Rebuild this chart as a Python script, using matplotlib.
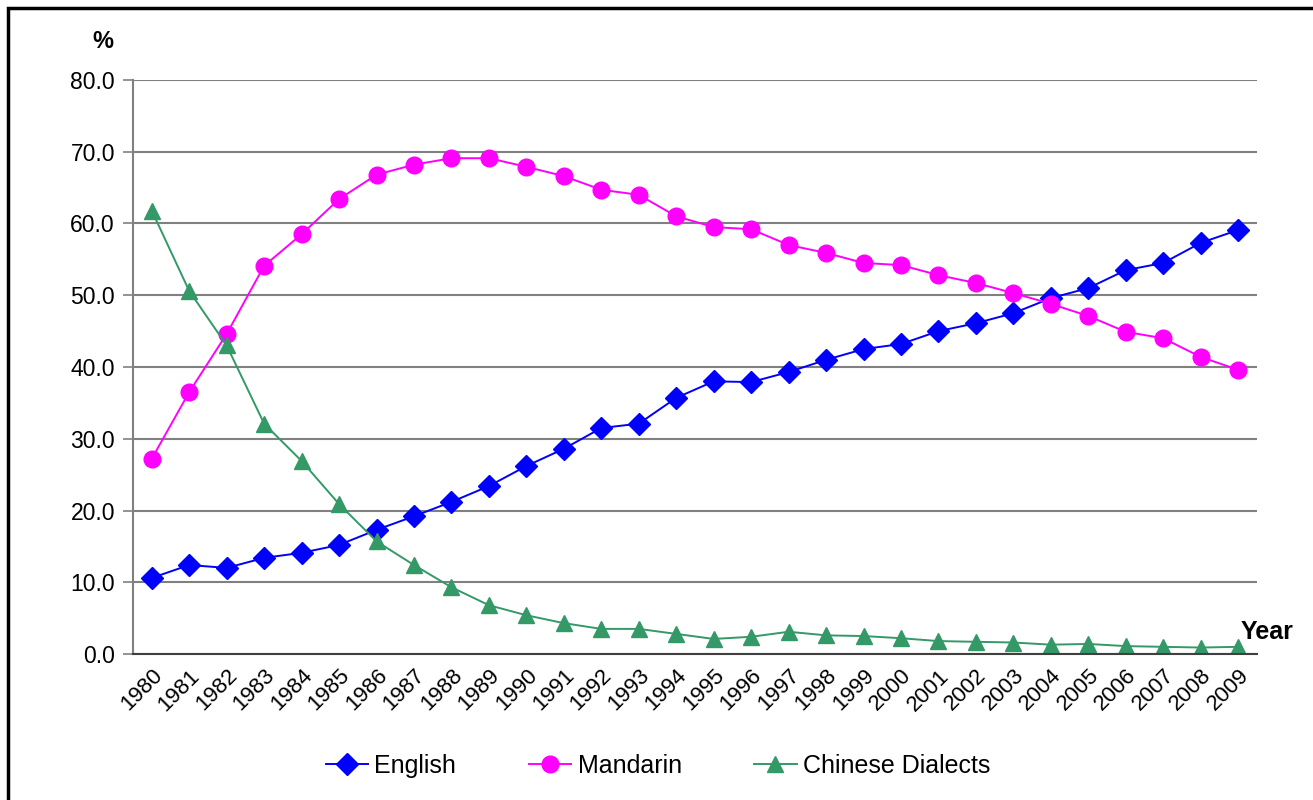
import matplotlib
matplotlib.use("Agg")
import matplotlib.pyplot as plt
from matplotlib.patches import Rectangle

plt.rcParams['font.family'] = ['Liberation Sans', 'DejaVu Sans']

years = [str(y) for y in range(1980, 2010)]

english = [10.6, 12.4, 12.0, 13.4, 14.1, 15.2, 17.3, 19.2, 21.2, 23.4,
           26.2, 28.6, 31.5, 32.1, 35.7, 38.0, 37.9, 39.3, 41.0, 42.5,
           43.2, 45.0, 46.1, 47.5, 49.6, 51.0, 53.5, 54.5, 57.3, 59.1]

mandarin = [27.2, 36.5, 44.6, 54.1, 58.5, 63.4, 66.8, 68.2, 69.1, 69.1,
            67.9, 66.6, 64.7, 64.0, 61.0, 59.5, 59.2, 57.0, 55.9, 54.5,
            54.2, 52.8, 51.7, 50.3, 48.8, 47.1, 44.9, 44.0, 41.4, 39.6]

dialects = [61.8, 50.6, 43.0, 32.1, 26.9, 20.9, 15.7, 12.4, 9.3, 6.8,
            5.4, 4.3, 3.5, 3.5, 2.8, 2.1, 2.4, 3.1, 2.6, 2.5,
            2.2, 1.8, 1.7, 1.6, 1.3, 1.4, 1.1, 1.0, 0.9, 1.0]

fig = plt.figure(figsize=(13.13, 8), dpi=100)
ax = fig.add_axes([0.1013, 0.1825, 0.856, 0.7175])

x = list(range(len(years)))
ax.plot(x, english, color='#0000FF', lw=1.4, marker='D', ms=11, label='English')
ax.plot(x, mandarin, color='#FF00FF', lw=1.4, marker='o', ms=12, label='Mandarin')
ax.plot(x, dialects, color='#339966', lw=1.4, marker='^', ms=12, label='Chinese Dialects')

ax.set_xlim(-0.5, len(years) - 0.5)
ax.set_ylim(0, 80)
ax.set_yticks(range(0, 81, 10))
ax.set_yticklabels([f"{v:.1f}" for v in range(0, 81, 10)], fontsize=16.5)
ax.set_xticks(x)
ax.set_xticklabels(years, rotation=45, ha='right', rotation_mode='anchor', fontsize=16)
ax.tick_params(axis='x', length=0, pad=8)
ax.tick_params(axis='y', length=7, width=1.2, color='#808080', pad=6)

ax.grid(axis='y', color='#808080', lw=1.5)
ax.set_axisbelow(True)
for side in ['top', 'right']:
    ax.spines[side].set_visible(False)
ax.spines['left'].set_color('#808080')
ax.spines['left'].set_linewidth(1.5)
ax.spines['bottom'].set_color('#404040')
ax.spines['bottom'].set_linewidth(1.5)

fig.text(103 / 1313, 1 - 42 / 800, '%', fontsize=17, fontweight='bold', ha='center', va='center')
fig.text(1267 / 1313, 1 - 632 / 800, 'Year', fontsize=18, fontweight='bold', ha='center', va='center')

fig.legend(loc='center', bbox_to_anchor=(658 / 1313, 1 - 766 / 800), ncol=3, frameon=False,
           fontsize=18, handlelength=1.7, columnspacing=2.9, handletextpad=0.25)

# outer chart frame, running off the right and bottom edges
fig.patches.append(Rectangle((8 / 1313, -0.05), 1.2, 1 - 8 / 800 + 0.05, transform=fig.transFigure,
                             fill=False, edgecolor='black', lw=2.5, zorder=10))

fig.savefig('out.png', dpi=100)
